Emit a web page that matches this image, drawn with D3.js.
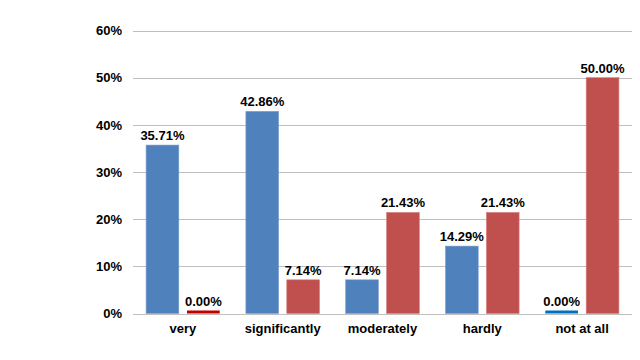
<!DOCTYPE html>
<html><head><meta charset="utf-8">
<script src="https://cdn.jsdelivr.net/npm/d3@7"></script>
<style>body{margin:0;background:#fff}svg{display:block}</style>
</head><body><svg id="c" width="640" height="360"></svg>
<script>
const categories = ["very", "significantly", "moderately", "hardly", "not at all"];
const seriesA = [35.71, 42.86, 7.14, 14.29, 0.00];
const seriesB = [0.00, 7.14, 21.43, 21.43, 50.00];
const yTicks = [0, 10, 20, 30, 40, 50, 60];

const svg = d3.select("#c");
const pLeft = 133, pRight = 632, pTop = 30.5, pBottom = 313.5;
const font = "'Liberation Sans', Arial, sans-serif";

const x = d3.scaleBand().domain(categories).range([pLeft, pRight]).paddingInner(0).paddingOuter(0);
const xs = d3.scaleBand().domain(["A", "B"]).range([0, x.bandwidth()]).paddingInner(0.2).paddingOuter(0.32);
const y = d3.scaleLinear().domain([0, 60]).range([pBottom, pTop]);

// gridlines
svg.append("g").selectAll("line").data(yTicks).join("line")
  .attr("x1", pLeft).attr("x2", pRight)
  .attr("y1", d => Math.round(y(d)) + 0.5).attr("y2", d => Math.round(y(d)) + 0.5)
  .attr("stroke", "#bfbfbf").attr("stroke-width", 1);

// y axis labels
const yAxis = d3.axisLeft(y).tickValues(yTicks).tickFormat(d => d + "%").tickSize(0).tickPadding(11);
const ga = svg.append("g").attr("transform", `translate(${pLeft},0)`).call(yAxis);
ga.select(".domain").remove();
ga.selectAll("text").attr("font-family", font).attr("font-size", 13).attr("font-weight", "bold").attr("fill", "#000");

// x axis labels
const xAxis = d3.axisBottom(x).tickSize(0).tickPadding(10);
const gx = svg.append("g").attr("transform", `translate(0,${pBottom})`).call(xAxis);
gx.select(".domain").remove();
gx.selectAll("text").attr("font-family", font).attr("font-size", 13).attr("font-weight", "bold").attr("fill", "#000");

const series = [
  {key: "A", values: seriesA, color: "#4f81bd", stroke: "#7a9fd0", zero: "#0070c0"},
  {key: "B", values: seriesB, color: "#c0504d", stroke: "#d47e7c", zero: "#c00000"}
];

series.forEach(s => {
  const g = svg.append("g");
  const data = categories.map((c, i) => ({c, v: s.values[i]}));
  g.selectAll("rect").data(data).join("rect")
    .attr("x", d => x(d.c) + xs(s.key))
    .attr("width", xs.bandwidth())
    .attr("y", d => d.v === 0 ? pBottom - 3 : y(d.v))
    .attr("height", d => d.v === 0 ? 3 : pBottom - y(d.v))
    .attr("fill", d => d.v === 0 ? s.zero : s.color)
    .attr("stroke", d => d.v === 0 ? "none" : s.stroke)
    .attr("stroke-width", 0.6);
  g.selectAll("text").data(data).join("text")
    .attr("x", d => x(d.c) + xs(s.key) + xs.bandwidth() / 2)
    .attr("y", d => (d.v === 0 ? pBottom - 3 : y(d.v)) - 5)
    .attr("text-anchor", "middle")
    .attr("font-family", font).attr("font-size", 13).attr("font-weight", "bold").attr("fill", "#000")
    .text(d => d.v.toFixed(2) + "%");
});
</script></body></html>
